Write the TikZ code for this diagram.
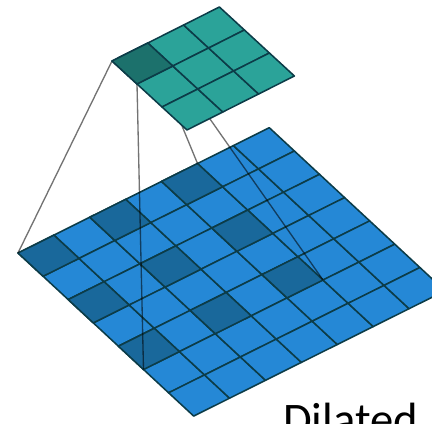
\documentclass[tikz,border=0pt]{standalone}
\usepackage{fontspec}
\setmainfont{Carlito}
\definecolor{inblue}{HTML}{2588D6}
\definecolor{inblued}{HTML}{19689B}
\definecolor{outteal}{HTML}{2BA399}
\definecolor{outteald}{HTML}{1C716C}
\definecolor{gridline}{HTML}{0C3C48}
\tikzset{
  cell/.style={draw=gridline, line width=1.15pt, line join=round},
  ray/.style={draw=black, opacity=0.55, line width=1pt}
}
\begin{document}
\begin{tikzpicture}[x=0.75pt, y=-0.75pt]
  \useasboundingbox (0, 0) rectangle (432, 424);
  \clip (0, 0) rectangle (432, 424);
  % input grid
  \begin{scope}[shift={(18, 253)}, x={(26.925pt, 13.425pt)}, y={(18.825pt, -17.475pt)}]
    \foreach \i in {0, ..., 6}
      \foreach \j in {0, ..., 6}
        \filldraw[cell, fill=inblue] (\i, \j) -- ++(1, 0) -- ++(0, 1) -- ++(-1, 0) -- cycle;
    \foreach \i in {0, 2, 4}
      \foreach \j in {0, 2, 4}
        \filldraw[cell, fill=inblued] (\i, \j) -- ++(1, 0) -- ++(0, 1) -- ++(-1, 0) -- cycle;
    \coordinate (I00) at (0, 0);
    \coordinate (I50) at (5, 0);
    \coordinate (I05) at (0, 5);
    \coordinate (I55) at (5, 5);
  \end{scope}
  % output grid
  \begin{scope}[shift={(112, 61)}, x={(26.85pt, 13.5pt)}, y={(18.75pt, -17.25pt)}]
    \coordinate (O00) at (0, 0);
    \coordinate (O10) at (1, 0);
    \coordinate (O01) at (0, 1);
    \coordinate (O11) at (1, 1);
  \end{scope}
  \draw[ray] (O00) -- (I00);
  \draw[ray] (O01) -- (I05);
  \draw[ray] (O10) -- (I50);
  \draw[ray] (O11) -- (I55);
  \begin{scope}[shift={(112, 61)}, x={(26.85pt, 13.5pt)}, y={(18.75pt, -17.25pt)}]
    \foreach \i in {0, 1, 2}
      \foreach \j in {0, 1, 2}
        \filldraw[cell, fill=outteal] (\i, \j) -- ++(1, 0) -- ++(0, 1) -- ++(-1, 0) -- cycle;
    \filldraw[cell, fill=outteald] (0, 0) -- (1, 0) -- (1, 1) -- (0, 1) -- cycle;
  \end{scope}
  \node[anchor=base west, inner sep=0pt, font=\fontsize{35}{35}\selectfont] (caption) at (283, 435) {Dilated};
\end{tikzpicture}
\end{document}
